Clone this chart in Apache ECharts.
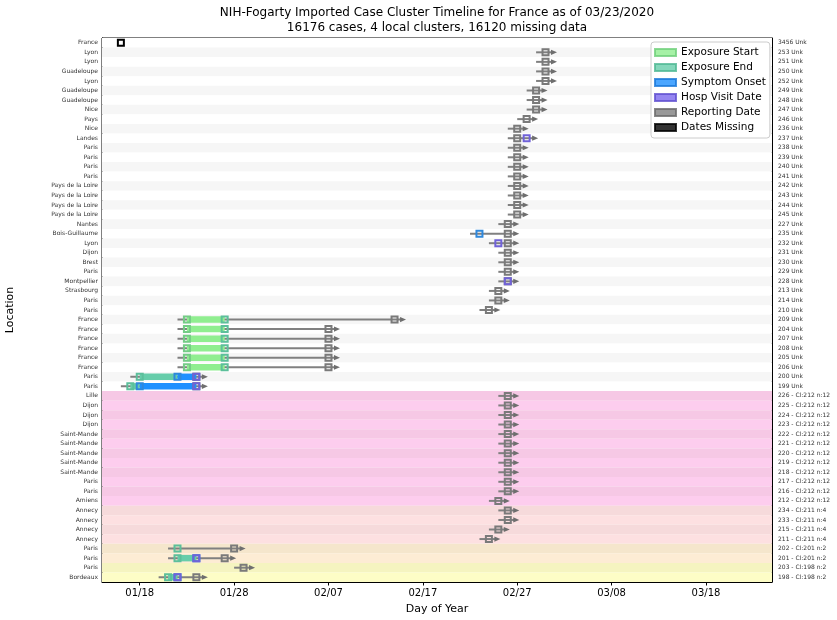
<!DOCTYPE html>
<html><head><meta charset="utf-8">
<script src="https://cdn.jsdelivr.net/npm/echarts@6/dist/echarts.min.js"></script>
<style>html,body{margin:0;padding:0;background:#fff}#c{width:837px;height:620px}</style>
</head><body><div id="c"></div>
<script>
const N = null;
const titleLines = ['NIH-Fogarty Imported Case Cluster Timeline for France as of 03/23/2020',
                    '16176 cases, 4 local clusters, 16120 missing data'];
const locations = ['France','Lyon','Lyon','Guadeloupe','Lyon','Guadeloupe','Guadeloupe','Nice','Pays','Nice',
  'Landes','Paris','Paris','Paris','Paris','Pays de la Loire','Pays de la Loire','Pays de la Loire','Pays de la Loire','Nantes',
  'Bois-Guillaume','Lyon','Dijon','Brest','Paris','Montpellier','Strasbourg','Paris','Paris','France',
  'France','France','France','France','France','Paris','Paris','Lille','Dijon','Dijon',
  'Dijon','Saint-Mande','Saint-Mande','Saint-Mande','Saint-Mande','Saint-Mande','Paris','Paris','Amiens','Annecy',
  'Annecy','Annecy','Annecy','Paris','Paris','Paris','Bordeaux'];
const caseLabels = ['3456 Unk','253 Unk','251 Unk','250 Unk','252 Unk','249 Unk','248 Unk','247 Unk','246 Unk','236 Unk',
  '237 Unk','238 Unk','239 Unk','240 Unk','241 Unk','242 Unk','243 Unk','244 Unk','245 Unk','227 Unk',
  '235 Unk','232 Unk','231 Unk','230 Unk','229 Unk','228 Unk','213 Unk','214 Unk','210 Unk','209 Unk',
  '204 Unk','207 Unk','208 Unk','205 Unk','206 Unk','200 Unk','199 Unk',
  '226 - Cl:212 n:12','225 - Cl:212 n:12','224 - Cl:212 n:12','223 - Cl:212 n:12','222 - Cl:212 n:12','221 - Cl:212 n:12',
  '220 - Cl:212 n:12','219 - Cl:212 n:12','218 - Cl:212 n:12','217 - Cl:212 n:12','216 - Cl:212 n:12','212 - Cl:212 n:12',
  '234 - Cl:211 n:4','233 - Cl:211 n:4','215 - Cl:211 n:4','211 - Cl:211 n:4',
  '202 - Cl:201 n:2','201 - Cl:201 n:2','203 - Cl:198 n:2','198 - Cl:198 n:2'];
const exposureStart = [N,N,N,N,N,N,N,N,N,N, N,N,N,N,N,N,N,N,N,N, N,N,N,N,N,N,N,N,N,'01/23',
  '01/23','01/23','01/23','01/23','01/23',N,N,N,N,N, N,N,N,N,N,N,N,N,N,N, N,N,N,N,N,N,N];
const exposureEnd = [N,N,N,N,N,N,N,N,N,N, N,N,N,N,N,N,N,N,N,N, N,N,N,N,N,N,N,N,N,'01/27',
  '01/27','01/27','01/27','01/27','01/27','01/18','01/17',N,N,N, N,N,N,N,N,N,N,N,N,N, N,N,N,'01/22','01/22',N,'01/21'];
const symptomOnset = [N,N,N,N,N,N,N,N,N,N, N,N,N,N,N,N,N,N,N,N, '02/23',N,N,N,N,N,N,N,N,N,
  N,N,N,N,N,'01/22','01/18',N,N,N, N,N,N,N,N,N,N,N,N,N, N,N,N,N,'01/24',N,'01/22'];
const hospVisit = [N,N,N,N,N,N,N,N,N,N, '02/28',N,N,N,N,N,N,N,N,N, N,'02/25',N,N,N,'02/26',N,N,N,N,
  N,N,N,N,N,'01/24','01/24',N,N,N, N,N,N,N,N,N,N,N,N,N, N,N,N,N,'01/24',N,'01/22'];
const reportingDate = [N,'03/01','03/01','03/01','03/01','02/29','02/29','02/29','02/28','02/27',
  '02/27','02/27','02/27','02/27','02/27','02/27','02/27','02/27','02/27','02/26',
  '02/26','02/26','02/26','02/26','02/26','02/26','02/25','02/25','02/24','02/14',
  '02/07','02/07','02/07','02/07','02/07','01/24','01/24','02/26','02/26','02/26',
  '02/26','02/26','02/26','02/26','02/26','02/26','02/26','02/26','02/25','02/26',
  '02/26','02/25','02/24','01/28','01/27','01/29','01/24'];
const datesMissing = ['01/16',N,N,N,N,N,N,N,N,N, N,N,N,N,N,N,N,N,N,N, N,N,N,N,N,N,N,N,N,N,
  N,N,N,N,N,N,N,N,N,N, N,N,N,N,N,N,N,N,N,N, N,N,N,N,N,N,N];
const tickLabels = ['01/18','01/28','02/07','02/17','02/27','03/08','03/18'];
const axisStart = '01/14', axisEnd = '03/25';
const legendNames = ['Exposure Start','Exposure End','Symptom Onset','Hosp Visit Date','Reporting Date','Dates Missing'];

// day-of-year (2020, leap year)
const CUM = [0,31,60,91,121];
function doy(s){ if(!s) return null; const [m,d] = s.split('/').map(Number); return CUM[m-1]+d; }

// styles
const C = {
  expStart:'#90ee90', expEnd:'#66cdaa', onset:'#1e90ff', hosp:'#7b68ee', report:'#808080', missing:'#000000',
  expStartEdge:'#74cc86', expEndEdge:'#5cbf9b', onsetEdge:'#2f88dc', hospEdge:'#7062d8', reportEdge:'#7a7a7a'
};
const BG = { none:['#f6f6f6','#ffffff'], '212':['#f6c8e5','#fdcdee'], '211':['#f6dadb','#fde0e1'],
             '201':['#f5e6cc','#fdecd4'], '198':['#f5f4c0','#fdfdc6'] };
const SQ = 6, BAR = 6.5;

const xMin = doy(axisStart), xMax = doy(axisEnd);
const tickVals = tickLabels.map(doy);
const rows = locations.map((_, i) => [xMin, i]);

function clusterOf(lbl){ const m = lbl.match(/Cl:(\d+)/); return m ? m[1] : 'none'; }

function renderBg(params, api){
  const r = api.value(1);
  const cs = params.coordSys;
  const y = api.coord([xMin, r])[1];
  const h = api.size([0, 1])[1];
  const pal = BG[clusterOf(caseLabels[r])];
  return {type:'rect', shape:{x:cs.x, y:y-h/2, width:cs.width, height:h},
          style:{fill: pal[r % 2 === 1 ? 0 : 1]}, silent:true};
}

function renderRow(params, api){
  const r = api.value(1);
  const y = api.coord([xMin, r])[1];
  const X = d => api.coord([d, r])[0];
  const es = doy(exposureStart[r]), ee = doy(exposureEnd[r]), on = doy(symptomOnset[r]),
        hv = doy(hospVisit[r]), rp = doy(reportingDate[r]), ms = doy(datesMissing[r]);
  const ch = [];
  const square = (d, stroke) => {
    const x = X(d);
    return {type:'rect', shape:{x:x-SQ/2, y:y-SQ/2, width:SQ, height:SQ},
            style:{fill:'transparent', stroke:stroke, lineWidth:2}};
  };
  const bar = (a, b, col) => {
    const xa = X(a), xb = X(b);
    return {type:'rect', shape:{x:Math.min(xa,xb), y:y-BAR/2, width:Math.abs(xb-xa), height:BAR}, style:{fill:col}};
  };
  if (ms != null) {
    ch.push(square(ms, C.missing));
    return {type:'group', children:ch};
  }
  const ds = [es, ee, on, hv, rp].filter(v => v != null);
  const lo = Math.min(...ds), hi = Math.max(...ds);
  const x0 = X(lo - 1), tip = X(hi) + 11.5;
  ch.push({type:'line', shape:{x1:x0, y1:y, x2:tip-4, y2:y}, style:{stroke:C.report, lineWidth:2}});
  ch.push({type:'polygon', shape:{points:[[tip-6, y-2.6],[tip, y],[tip-6, y+2.6]]}, style:{fill:'#6e6e6e'}});
  if (es != null && ee != null) ch.push(bar(es, ee, C.expStart));
  if (ee != null && on != null) ch.push(bar(ee, on, C.expEnd));
  if (on != null && hv != null) ch.push(bar(on, hv, C.onset));
  if (rp != null) ch.push(square(rp, C.reportEdge));
  if (es != null) ch.push(square(es, C.expStartEdge));
  if (ee != null) ch.push(square(ee, C.expEndEdge));
  if (on != null) ch.push(square(on, C.onsetEdge));
  if (hv != null) ch.push(square(hv, C.hospEdge));
  return {type:'group', children:ch};
}

const legendStyle = [
  {color:C.expStart, borderColor:'#6fd07a'},
  {color:C.expEnd, borderColor:'#4fb893'},
  {color:C.onset, borderColor:'#1a78d8'},
  {color:C.hosp, borderColor:'#5f4fd0'},
  {color:C.report, borderColor:'#6a6a6a'},
  {color:C.missing, borderColor:'#000'}
];

const FONT = 'DejaVu Sans';
const chart = echarts.init(document.getElementById('c'), null, {renderer:'canvas'});
chart.setOption({
  animation:false,
  textStyle:{fontFamily:FONT},
  graphic:[
    {type:'text', x:437, y:13, style:{text:titleLines[0], fontFamily:FONT, fontSize:12, fill:'#000', align:'center', verticalAlign:'middle'}},
    {type:'text', x:437, y:28, style:{text:titleLines[1], fontFamily:FONT, fontSize:12, fill:'#000', align:'center', verticalAlign:'middle'}}
  ],
  grid:{left:102, right:65, top:38, bottom:38, show:true, borderColor:'#000', borderWidth:1, backgroundColor:'transparent',
        containLabel:false, outerBoundsMode:'none'},
  legend:{
    data:legendNames.map(n => ({name:n, icon:'rect'})),
    orient:'vertical', left:651, top:42, itemWidth:21, itemHeight:7, itemGap:2,
    padding:[4,4,4,3], backgroundColor:'#fff', borderColor:'#cccccc', borderWidth:1, borderRadius:3,
    textStyle:{fontFamily:FONT, fontSize:10.5, color:'#000', lineHeight:13}, selectedMode:false
  },
  xAxis:{
    type:'value', min:xMin, max:xMax, name:'Day of Year', nameLocation:'middle', nameGap:22,
    nameTextStyle:{fontFamily:FONT, fontSize:11, color:'#000'},
    axisLine:{show:true, lineStyle:{color:'#000', width:1}},
    axisTick:{show:true, customValues:tickVals, length:3.5, lineStyle:{color:'#000'}},
    axisLabel:{customValues:tickVals, formatter:v => tickLabels[tickVals.indexOf(v)] || '', fontFamily:FONT, fontSize:10, color:'#000', margin:6},
    splitLine:{show:false}
  },
  yAxis:[
    {type:'category', data:locations, inverse:true, position:'left', name:'Location', nameLocation:'middle', nameGap:86,
     nameTextStyle:{fontFamily:FONT, fontSize:11, color:'#000'},
     axisLine:{show:true, lineStyle:{color:'#000'}}, axisTick:{show:false},
     axisLabel:{interval:0, fontFamily:FONT, fontSize:6, color:'#333', margin:4}, splitLine:{show:false}},
    {type:'category', data:caseLabels, inverse:true, position:'right',
     axisLine:{show:true, lineStyle:{color:'#000'}}, axisTick:{show:false},
     axisLabel:{interval:0, fontFamily:FONT, fontSize:6, color:'#333', margin:6}, splitLine:{show:false}}
  ],
  series:[
    {type:'custom', name:'bg', renderItem:renderBg, data:rows, encode:{x:0, y:1}, yAxisIndex:0, z:1, silent:true, clip:true},
    {type:'custom', name:'timeline', renderItem:renderRow, data:rows, encode:{x:0, y:1}, yAxisIndex:0, z:3, silent:true, clip:false}
  ].concat(legendNames.map((n, i) => ({type:'scatter', name:n, data:[], itemStyle:Object.assign({borderWidth:1.5}, legendStyle[i])})))
});
</script>
</body></html>
